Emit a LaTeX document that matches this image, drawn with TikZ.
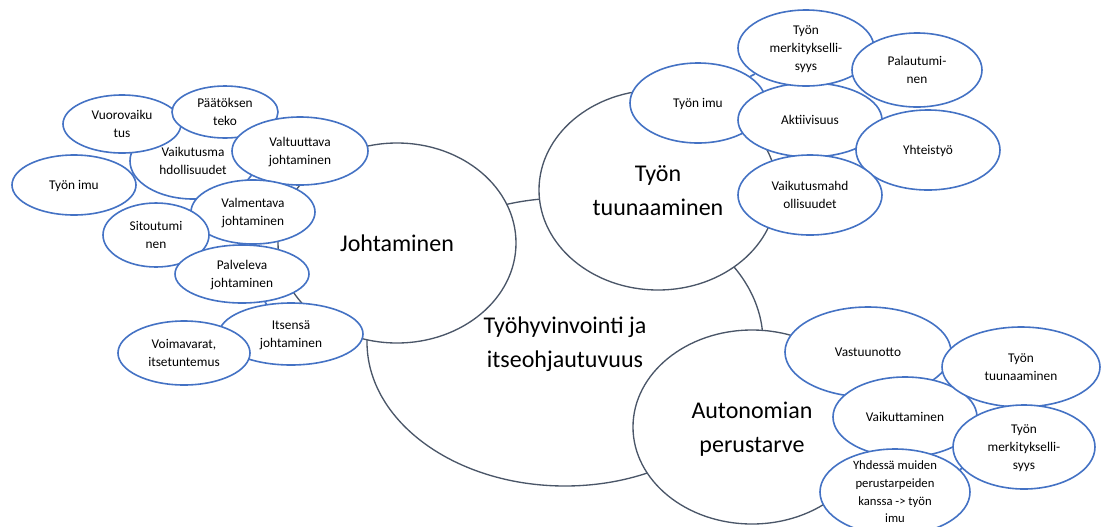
\documentclass[tikz,border=0pt]{standalone}
\usepackage{fontspec}
\setmainfont{Carlito}
\usetikzlibrary{shapes.geometric,backgrounds}
% text of a bubble takes no room, so the bubble keeps its own size
\newcommand{\bubtext}[1]{\makebox[0pt]{\smash{\raisebox{-0.3em}{\begin{tabular}{@{}c@{}}#1\end{tabular}}}}}

\begin{document}
\begin{tikzpicture}[x=0.75pt,y=-0.75pt,
		big/.style={ellipse,draw=slate,line width=1pt,fill=white,inner sep=0pt,font=\fontsize{18}{26}\selectfont},
		bub/.style={ellipse,draw=office,line width=1.2pt,fill=white,inner sep=0pt,font=\fontsize{10}{13.5}\selectfont},
		rad/.style 2 args={minimum width=1.5pt*#1,minimum height=1.5pt*#2},
		biglink/.style={draw=slate,line width=1pt},
		link/.style={draw=office,line width=1.2pt}]
		\definecolor{slate}{HTML}{4A5668}
		\definecolor{office}{HTML}{4472C4}
		\useasboundingbox (0,0) rectangle (1101,526);

		% the three big themes round the middle
		\node[big,rad={198}{144}] (well) at (565,342) {\bubtext{Työhyvinvointi ja\\itseohjautuvuus}};
		\node[big,rad={119}{100}] (lead) at (397,243) {\bubtext{Johtaminen}};
		\node[big,rad={119}{100}] (craft) at (658,190) {\bubtext{Työn\\tuunaaminen}};
		\node[big,rad={119}{97}] (auto) at (752,427) {\bubtext{Autonomian\\perustarve}};

		% left
		\node[bub,rad={63}{38}] (vaik) at (193,161) {\bubtext{Vaikutusma\\hdollisuudet}};
		\node[bub,rad={59}{29}] (vuoro) at (122,124) {\bubtext{Vuorovaiku\\tus}};
		\node[bub,rad={53}{26}] (paat) at (225,112) {\bubtext{Päätöksen\\teko}};
		\node[bub,rad={62}{30}] (imuL) at (74,185) {\bubtext{Työn imu}};
		\node[bub,rad={68}{34}] (valt) at (300,151) {\bubtext{Valtuuttava\\johtaminen}};
		\node[bub,rad={62}{32}] (valm) at (253,212) {\bubtext{Valmentava\\johtaminen}};
		\node[bub,rad={53}{32}] (sit) at (156,235) {\bubtext{Sitoutumi\\nen}};
		\node[bub,rad={67}{29}] (palv) at (242,274) {\bubtext{Palveleva\\johtaminen}};
		\node[bub,rad={72}{31}] (its) at (291,334) {\bubtext{Itsensä\\johtaminen}};
		\node[bub,rad={66}{32}] (voim) at (184,353) {\bubtext{Voimavarat,\\itsetuntemus}};

		% top right
		\node[bub,rad={68}{40}] (imuR) at (698,103) {\bubtext{Työn imu}};
		\node[bub,rad={72}{37}] (akt) at (810,120) {\bubtext{Aktiivisuus}};
		\node[bub,rad={68}{38}] (merk) at (806,48) {\bubtext{Työn\\merkitykselli-\\syys}};
		\node[bub,rad={65}{37}] (pal) at (917,70) {\bubtext{Palautumi-\\nen}};
		\node[bub,rad={72}{40}] (yht) at (928,150) {\bubtext{Yhteistyö}};
		\node[bub,rad={72}{40}] (vmahd) at (810,195) {\bubtext{Vaikutusmahd\\ollisuudet}};

		% bottom right
		\node[bub,rad={83}{45}] (vast) at (868,352) {\bubtext{Vastuunotto}};
		\node[bub,rad={72}{40}] (vaikut) at (905,417) {\bubtext{Vaikuttaminen}};
		\node[bub,rad={79}{40}] (tuun) at (1021,367) {\bubtext{Työn\\tuunaaminen}};
		\node[bub,rad={71}{42}] (merk2) at (1024,447) {\bubtext{Työn\\merkitykselli-\\syys}};
		\node[bub,rad={75}{43},font=\fontsize{9.5}{13.2}\selectfont] (yhd) at (895,492) {\bubtext{Yhdessä muiden\\perustarpeiden\\kanssa -> työn\\imu}};

		\begin{scope}[on background layer]
			\foreach \a/\b in {well/lead, well/craft, well/auto, lead/craft, craft/auto}
				\draw[biglink] (\a) -- (\b);
			\foreach \a/\b in {lead/valt, lead/valm, lead/palv, lead/its, valt/paat, valt/vaik, vaik/vuoro, vuoro/paat,
					vaik/imuL, valt/valm, valm/sit, valm/palv, sit/palv, palv/its, its/voim,
					craft/imuR, craft/vmahd, imuR/akt, imuR/merk, akt/merk, merk/pal, akt/yht, akt/vmahd, vmahd/yht,
					auto/vast, auto/yhd, vast/vaikut, vast/tuun, vaikut/merk2, vaikut/yhd, tuun/merk2, yhd/merk2}
				\draw[link] (\a) -- (\b);
		\end{scope}
	\end{tikzpicture}
\end{document}
